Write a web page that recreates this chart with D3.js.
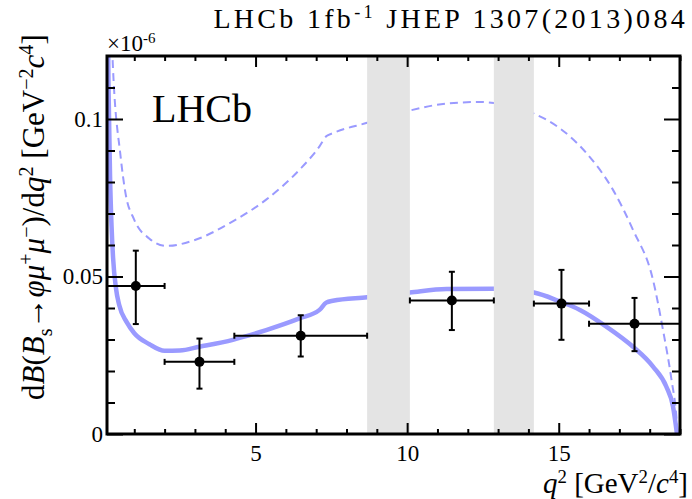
<!DOCTYPE html>
<html lang="en">
<head>
  <meta charset="utf-8">
  <title>Bs to phi mu mu</title>
  <style>
  * { margin:0; padding:0; }
  body { background:#fff; }
  svg text { font-family: "Liberation Serif", "Times New Roman", serif; fill:#000; }
  </style>
  <script src="https://cdn.jsdelivr.net/npm/d3@7"></script>
</head>
<body>
  <div id="chart"></div>
  <script type="text/javascript">
  // q2 bins of the measurement (GeV^2/c^4) and dB/dq2 in units of 1e-6
  var binLo = [0.1, 2.0, 4.3, 10.09, 14.18, 16.0];
  var binHi = [2.0, 4.3, 8.68, 12.86, 16.0, 19.0];
  var dBdq2 = [0.0470, 0.0229, 0.0312, 0.0424, 0.0414, 0.0350];
  var errUp = [0.0112, 0.0074, 0.0065, 0.0091, 0.0107, 0.0082];
  var errDn = [0.0121, 0.0085, 0.0066, 0.0094, 0.0115, 0.0087];

  // charmonium veto regions
  var vetoLo = [8.68, 12.86];
  var vetoHi = [10.09, 14.18];

  // SM prediction (solid) and the dashed curve
  var smQ = [0.1, 0.15, 0.2, 0.25, 0.3, 0.4, 0.5, 0.75, 1.0, 1.5, 2.0, 2.5, 3.15, 4.25, 5.35, 6.45, 7.11, 7.33, 7.55, 8.68,
             10.09, 11.3, 12.86, 14.18, 15.03, 15.7, 16.57, 17.45, 18.11, 18.55, 18.77, 18.9];
  var smY = [0.16, 0.11, 0.082, 0.066, 0.056, 0.046, 0.041, 0.0355, 0.032, 0.0285, 0.0264, 0.0265, 0.0277, 0.0299, 0.0330, 0.0367, 0.0394, 0.0417, 0.0423, 0.0434,
             0.0449, 0.0460, 0.0461, 0.0449, 0.0421, 0.0394, 0.0341, 0.0277, 0.0214, 0.0150, 0.0087, 0.0];
  var dsQ = [0.2, 0.28, 0.55, 0.7, 1.0, 1.5, 2.05, 3.0, 4.25, 5.35, 6.45, 7.11, 7.33, 7.55, 8.68,
             10.09, 11.3, 12.4, 12.86, 14.18, 15.03, 15.91, 16.79, 17.45, 18.11, 18.44, 18.72, 18.88, 18.92];
  var dsY = [0.16, 0.12, 0.088, 0.077, 0.068, 0.062, 0.0597, 0.0616, 0.0675, 0.0744, 0.0839, 0.0913, 0.0945, 0.0955, 0.0988,
             0.1027, 0.1049, 0.1054, 0.1051, 0.1017, 0.0971, 0.0892, 0.0775, 0.0648, 0.0489, 0.0330, 0.0172, 0.0055, 0.0];

  var xMajor = [5, 10, 15];
  var yMajor = [0, 0.05, 0.1];

  var W = 692, H = 499;
  var L = 107, R = 680, T = 56, B = 434;
  var blue = "#9a9aff";

  var svg = d3.select("#chart").append("svg").attr("width", W).attr("height", H);

  var x = d3.scaleLinear().domain([0.1, 19]).range([L, R]);
  var y = d3.scaleLinear().domain([0, 0.12]).range([B, T]);

  svg.append("clipPath").attr("id", "clip")
    .append("rect").attr("x", L).attr("y", T).attr("width", R - L).attr("height", B - T);

  var plot = svg.append("g").attr("clip-path", "url(#clip)");

  var line = d3.line().x(function(d){return x(d[0]);}).y(function(d){return y(d[1]);})
    .curve(d3.curveMonotoneX);

  plot.append("path").datum(d3.zip(dsQ, dsY)).attr("d", line)
    .attr("fill", "none").attr("stroke", blue).attr("stroke-width", 2)
    .attr("stroke-dasharray", "8,5");
  plot.append("path").datum(d3.zip(smQ, smY)).attr("d", line)
    .attr("fill", "none").attr("stroke", blue).attr("stroke-width", 4.5);

  // veto bands cover the curves
  plot.selectAll(".veto").data(d3.range(vetoLo.length)).enter().append("rect")
    .attr("x", function(i){return x(vetoLo[i]);})
    .attr("width", function(i){return x(vetoHi[i]) - x(vetoLo[i]);})
    .attr("y", T).attr("height", B - T)
    .attr("fill", "#e4e4e4");

  // data points
  var pts = d3.range(dBdq2.length).map(function(i){
    return {lo: binLo[i], hi: binHi[i], c: (binLo[i] + binHi[i]) / 2,
            v: dBdq2[i], up: dBdq2[i] + errUp[i], dn: dBdq2[i] - errDn[i]};
  });
  var g = plot.selectAll(".pt").data(pts).enter().append("g")
    .attr("stroke", "#000").attr("stroke-width", 2);
  g.append("line").attr("x1", function(d){return x(d.lo);}).attr("x2", function(d){return x(d.hi);})
    .attr("y1", function(d){return y(d.v);}).attr("y2", function(d){return y(d.v);});
  g.append("line").attr("x1", function(d){return x(d.c);}).attr("x2", function(d){return x(d.c);})
    .attr("y1", function(d){return y(d.up);}).attr("y2", function(d){return y(d.dn);});
  // little end caps
  var cap = 3;
  g.each(function(d){
    var s = d3.select(this);
    [d.lo, d.hi].forEach(function(q){
      s.append("line").attr("x1", x(q)).attr("x2", x(q))
        .attr("y1", y(d.v) - cap).attr("y2", y(d.v) + cap);
    });
    [d.up, d.dn].forEach(function(v){
      s.append("line").attr("x1", x(d.c) - cap).attr("x2", x(d.c) + cap)
        .attr("y1", y(v)).attr("y2", y(v));
    });
  });
  g.append("circle").attr("cx", function(d){return x(d.c);}).attr("cy", function(d){return y(d.v);})
    .attr("r", 5).attr("fill", "#000").attr("stroke", "none");

  // axes, ticks pointing inwards on all four sides
  var xMinor = d3.range(1, 20).filter(function(v){return xMajor.indexOf(v) < 0;});
  var yMinor = d3.range(1, 12).map(function(k){return k / 100;}).filter(function(v){return Math.abs(v - 0.05) > 1e-9 && Math.abs(v - 0.1) > 1e-9;});

  function addAxis(axis, tr, labels) {
    var a = svg.append("g").attr("transform", tr).call(axis)
      .attr("font-family", "Liberation Serif").attr("font-size", 23);
    a.select(".domain").remove();
    a.selectAll("line").attr("stroke", "#000").attr("stroke-width", 2);
    if (!labels) a.selectAll("text").remove();
    else a.selectAll("text").attr("fill", "#000");
    return a;
  }
  addAxis(d3.axisBottom(x).tickValues(xMinor).tickSize(-5).tickFormat(""), "translate(0," + B + ")", false);
  addAxis(d3.axisBottom(x).tickValues(xMajor).tickSize(-11).tickPadding(11).tickFormat(d3.format("d")), "translate(0," + B + ")", true);
  addAxis(d3.axisTop(x).tickValues(xMinor).tickSize(-5).tickFormat(""), "translate(0," + T + ")", false);
  addAxis(d3.axisTop(x).tickValues(xMajor).tickSize(-11).tickFormat(""), "translate(0," + T + ")", false);
  addAxis(d3.axisLeft(y).tickValues(yMinor).tickSize(-8).tickFormat(""), "translate(" + L + ",0)", false);
  addAxis(d3.axisLeft(y).tickValues(yMajor).tickSize(-16).tickPadding(4).tickFormat(function(v){return v === 0 ? "0" : String(+v.toFixed(2));}), "translate(" + L + ",0)", true);
  addAxis(d3.axisRight(y).tickValues(yMinor).tickSize(-8).tickFormat(""), "translate(" + R + ",0)", false);
  addAxis(d3.axisRight(y).tickValues(yMajor).tickSize(-16).tickFormat(""), "translate(" + R + ",0)", false);

  svg.append("rect").attr("x", L).attr("y", T).attr("width", R - L).attr("height", B - T)
    .attr("fill", "none").attr("stroke", "#000").attr("stroke-width", 3);

  // rich text helper: parts with sup / sub / italic
  function rich(sel, parts, fs) {
    var shift = 0;
    parts.forEach(function(p){
      var target = p.sup ? -0.36 * fs : (p.sub ? 0.25 * fs : 0);
      var ts = sel.append("tspan").text(p.t).attr("dy", target - shift);
      shift = target;
      if (p.sup || p.sub) ts.attr("font-size", 0.65 * fs);
      if (p.it) ts.attr("font-style", "italic");
    });
  }

  // header
  var head = svg.append("text").attr("x", 688).attr("y", 28).attr("text-anchor", "end")
    .attr("font-size", 28).style("letter-spacing", "3.3px");
  rich(head, [{t: "LHCb 1fb"}, {t: "-1", sup: true}, {t: " JHEP  1307(2013)084"}], 28);

  var mult = svg.append("text").attr("x", 107).attr("y", 51).attr("font-size", 23);
  rich(mult, [{t: "\u00d710"}, {t: "-6", sup: true}], 23);

  svg.append("text").attr("x", 152).attr("y", 122).attr("font-size", 40).text("LHCb");

  // axis titles
  var xt = svg.append("text").attr("x", 688).attr("y", 493).attr("text-anchor", "end").attr("font-size", 29);
  rich(xt, [{t: "q", it: true}, {t: "2", sup: true}, {t: " [GeV"}, {t: "2", sup: true}, {t: "/"}, {t: "c", it: true}, {t: "4", sup: true}, {t: "]"}], 29);

  var yt = svg.append("text").attr("transform", "translate(44,400) rotate(-90)").attr("font-size", 31);
  rich(yt, [{t: "d"}, {t: "B", it: true}, {t: "("}, {t: "B", it: true}, {t: "s", sub: true}, {t: "\u2192"},
            {t: "\u03c6\u03bc", it: true}, {t: "+", sup: true}, {t: "\u03bc", it: true}, {t: "\u2212", sup: true},
            {t: ")/d"}, {t: "q", it: true}, {t: "2", sup: true}, {t: " [GeV"}, {t: "\u22122", sup: true},
            {t: "c", it: true}, {t: "4", sup: true}, {t: "]"}], 31);
  </script>
</body>
</html>
